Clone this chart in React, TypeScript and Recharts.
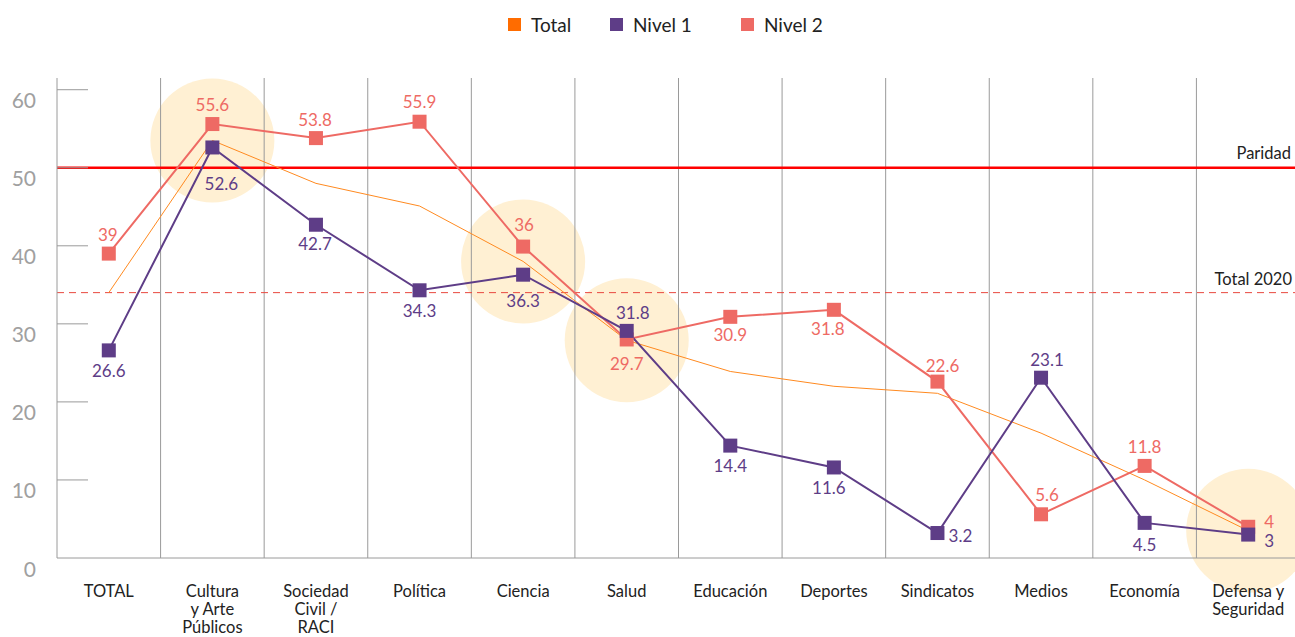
import { LineChart, Line, XAxis, YAxis, ReferenceLine, ReferenceDot, LabelList } from 'recharts'

const CATEGORIES = [
  'TOTAL',
  'Cultura\ny Arte\nPúblicos',
  'Sociedad\nCivil /\nRACI',
  'Política',
  'Ciencia',
  'Salud',
  'Educación',
  'Deportes',
  'Sindicatos',
  'Medios',
  'Economía',
  'Defensa y\nSeguridad',
]

// orange thin line, no markers
const TOTAL = [34, 53.5, 48, 45.1, 38, 27.9, 23.9, 22, 21.1, 16, 10, 3.5]

// plotted position vs printed label (a few points sit away from their label value)
const NIVEL_1 = [26.6, 52.6, 42.7, 34.3, 36.3, 29.1, 14.4, 11.6, 3.2, 23.1, 4.5, 3]
const NIVEL_1_LABELS = ['26.6', '52.6', '42.7', '34.3', '36.3', '31.8', '14.4', '11.6', '3.2', '23.1', '4.5', '3']
const NIVEL_2 = [39, 55.6, 53.8, 55.9, 39.9, 28, 30.9, 31.8, 22.6, 5.6, 11.8, 4]
const NIVEL_2_LABELS = ['39', '55.6', '53.8', '55.9', '36', '29.7', '30.9', '31.8', '22.6', '5.6', '11.8', '4']

// categories with the pale highlight circle (centred on the Total line)
const HIGHLIGHTED = [1, 4, 5, 11]
const PARIDAD = 50
const TOTAL_2020 = 34
const Y_TICKS = [0, 10, 20, 30, 40, 50, 60]

// label offsets [dx, dy] from the marker centre
const N1_LABEL_POS = [
  [0, 20], [9, 36], [-1, 19], [0, 20], [0, 26], [6, -18],
  [0, 20], [-5, 20], [23, 2], [6, -18], [0, 22], [21, 6],
]
const N2_LABEL_POS = [
  [-1, -19], [0, -20], [-1, -19], [0, -20], [1, -22], [0, 24],
  [0, 18], [-6, 19], [5, -16], [6, -20], [0, -19], [21, -5],
]

const PURPLE = '#5E3D87'
const SALMON = '#EE6A64'
const ORANGE = '#FF8A20'
const GRID = '#9A9A9A'
const FONT = 'Lato, "Noto Sans", sans-serif'

const data = CATEGORIES.map((name, i) => ({
  idx: i,
  name,
  total: TOTAL[i],
  n1: NIVEL_1[i],
  n2: NIVEL_2[i],
}))

function squareDot(color: string) {
  return (props: any) => {
    const { cx, cy, index } = props
    if (cx == null || cy == null) return <g key={index} />
    return <rect key={index} x={cx - 7} y={cy - 7} width={14} height={14} fill={color} />
  }
}

function pointLabel(labels: string[], pos: number[][], color: string) {
  return (props: any) => {
    const { x, y, index } = props
    const [dx, dy] = pos[index]
    return (
      <text
        x={x + dx}
        y={y + dy}
        textAnchor="middle"
        dominantBaseline="central"
        fontSize={17}
        fontFamily={FONT}
        fill={color}
      >
        {labels[index]}
      </text>
    )
  }
}

function YTick(props: any) {
  const { x, y, payload } = props
  return (
    <g>
      {payload.value !== 0 && <line x1={x} x2={x + 31} y1={y} y2={y} stroke={GRID} strokeWidth={1} />}
      <text x={x - 21} y={y + 10} textAnchor="end" dominantBaseline="central" fontSize={21} fontFamily={FONT} fill="#A0A0A0">
        {payload.value}
      </text>
    </g>
  )
}

function XTick(props: any) {
  const { x, y, payload } = props
  const lines = CATEGORIES[payload.value].split('\n')
  return (
    <text x={x} y={y + 34} textAnchor="middle" fontSize={16.5} fontFamily={FONT} fill="#222">
      {lines.map((l, i) => (
        <tspan key={i} x={x} dy={i === 0 ? 5 : 18}>
          {l}
        </tspan>
      ))}
    </text>
  )
}

const LEGEND = [
  { label: 'Total', color: '#FF6C00', width: 102 },
  { label: 'Nivel 1', color: PURPLE, width: 131 },
  { label: 'Nivel 2', color: SALMON, width: 90 },
]

export default function App() {
  return (
    <div style={{ position: 'fixed', top: 0, left: 0, width: 1295, height: 637, overflow: 'hidden', fontFamily: FONT, background: '#fff' }}>
      <div style={{ position: 'absolute', top: 8, left: 8 }}>
        <LineChart
          width={1292}
          height={629}
          data={data}
          margin={{ top: 70, right: 0, bottom: 0, left: 0 }}
        >
          {HIGHLIGHTED.map((i) => (
            <ReferenceDot
              key={'h' + i}
              x={i}
              y={TOTAL[i]}
              r={62}
              fill="#FFF0D3"
              stroke="none"
              ifOverflow="visible"
              zIndex={-50}
            />
          ))}
          {CATEGORIES.slice(1).map((_, i) => (
            <ReferenceLine key={'v' + i} x={i + 0.5} stroke={GRID} strokeWidth={1} zIndex={-40} />
          ))}
          <XAxis
            dataKey="idx"
            type="number"
            domain={[-0.5, 11.5]}
            ticks={CATEGORIES.map((_, i) => i)}
            interval={0}
            tick={<XTick />}
            tickSize={0}
            tickMargin={0}
            tickLine={false}
            axisLine={{ stroke: GRID }}
            height={79}
          />
          <YAxis
            domain={[0, 61.5]}
            ticks={Y_TICKS}
            tick={<YTick />}
            tickSize={0}
            tickMargin={0}
            tickLine={false}
            axisLine={{ stroke: GRID }}
            width={49}
          />
          <ReferenceLine
            y={PARIDAD}
            stroke="#FF0000"
            strokeWidth={2.5}
            label={{ value: 'Paridad', position: 'insideBottomRight', offset: 9, fill: '#222', fontSize: 16.5, fontFamily: FONT }}
          />
          <ReferenceLine
            y={TOTAL_2020}
            stroke="#E8473E"
            strokeWidth={1}
            strokeDasharray="7 5"
            label={{ value: 'Total 2020', position: 'insideBottomRight', offset: 8, fill: '#222', fontSize: 16.5, fontFamily: FONT }}
          />
          <Line
            dataKey="total"
            stroke={ORANGE}
            strokeWidth={1}
            dot={false}
            activeDot={false}
            isAnimationActive={false}
          />
          <Line
            dataKey="n2"
            stroke={SALMON}
            strokeWidth={2}
            dot={squareDot(SALMON)}
            activeDot={false}
            isAnimationActive={false}
          >
            <LabelList dataKey="n2" content={pointLabel(NIVEL_2_LABELS, N2_LABEL_POS, SALMON)} />
          </Line>
          <Line
            dataKey="n1"
            stroke={PURPLE}
            strokeWidth={2}
            dot={squareDot(PURPLE)}
            activeDot={false}
            isAnimationActive={false}
          >
            <LabelList dataKey="n1" content={pointLabel(NIVEL_1_LABELS, N1_LABEL_POS, PURPLE)} />
          </Line>
        </LineChart>
      </div>
      <div
        style={{
          position: 'absolute',
          top: 13,
          left: 508,
          display: 'flex',
          alignItems: 'center',
          fontSize: 19,
          color: '#222',
        }}
      >
        {LEGEND.map((it) => (
          <div key={it.label} style={{ display: 'flex', alignItems: 'center', width: it.width }}>
            <span style={{ width: 13, height: 13, background: it.color, display: 'inline-block', marginRight: 10 }} />
            <span>{it.label}</span>
          </div>
        ))}
      </div>
    </div>
  )
}
